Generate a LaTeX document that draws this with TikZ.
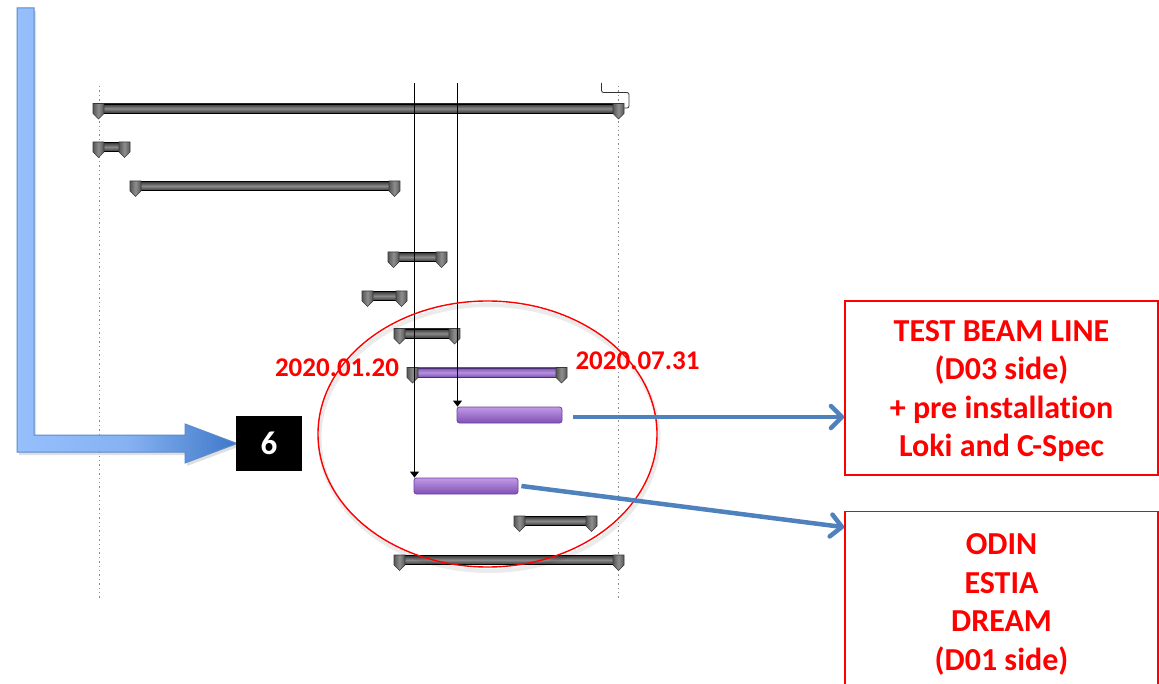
\documentclass[tikz,border=0pt]{standalone}
\usepackage{fontspec}
\setmainfont{Carlito}[Ligatures=NoCommon]
\usetikzlibrary{arrows.meta,shadows,calc}
\definecolor{lblue}{HTML}{96BFFC}
\definecolor{mblue}{HTML}{86B2F2}
\definecolor{dblue}{HTML}{3F78C8}
\definecolor{bblue}{HTML}{5A8AD0}
\definecolor{accblue}{HTML}{4F81BD}
\definecolor{barmid}{HTML}{8A8A8A}
\definecolor{bardark}{HTML}{383838}
\definecolor{capmid}{HTML}{8E8E8E}
\definecolor{capdark}{HTML}{575757}
\definecolor{purpmid}{HTML}{B592DE}
\definecolor{purpdark}{HTML}{7E57B0}
\definecolor{purpline}{HTML}{4B2D77}
\definecolor{tasktop}{HTML}{C09AE6}
\definecolor{taskbot}{HTML}{8050B4}
\definecolor{taskline}{HTML}{6E3FA0}
\definecolor{dotgray}{HTML}{8C8C8C}
\tikzset{
  sumbar/.style={top color=bardark, bottom color=bardark, middle color=barmid, draw=black, line width=0.8pt},
  purpbar/.style={top color=purpdark, bottom color=purpdark, middle color=purpmid, draw=purpline, line width=0.8pt},
  capshape/.style={left color=capdark, right color=capdark, middle color=capmid, draw=bardark, line width=0.6pt},
  taskbar/.style={rectangle, rounded corners=2.5pt, top color=tasktop, bottom color=taskbot, draw=taskline, line width=0.8pt, inner sep=0pt},
  depline/.style={draw=black, line width=0.9pt, -{Triangle[length=6pt,width=9pt]}},
  dotline/.style={draw=dotgray, line width=1pt, dash pattern=on 1.4pt off 3pt},
  bluearrow/.style={draw=accblue, line width=4.5pt, -{Straight Barb[length=11pt,width=22pt,line cap=round,line join=round]}},
  redbox/.style={rectangle, draw=red, line width=1.6pt, inner sep=0pt},
  boxtext/.style={text=red, font=\bfseries\fontsize{32}{38.5}\selectfont, align=center, inner sep=0pt},
  datelbl/.style={text=red, font=\bfseries\fontsize{27}{30}\selectfont, inner sep=0pt},
  numbox/.style={rectangle, fill=black, text=white, font=\bfseries\fontsize{33}{36}\selectfont, inner sep=0pt},
}
\newcommand\gcap[2]{%
  \path[capshape] ({#1-5.5},{#2-5}) -- ({#1+5.5},{#2-5}) -- ({#1+5.5},{#2+5}) -- ({#1},{#2+10.5}) -- ({#1-5.5},{#2+5}) -- cycle;}
\newcommand\gsum[4]{%
  \path[#4] ({#1+4},{#3-4.5}) rectangle ({#2-4},{#3+4.5});
  \gcap{#1+5.5}{#3}\gcap{#2-5.5}{#3}}
\begin{document}
\begin{tikzpicture}[x=1pt,y=-1pt]
\clip (0,0) rectangle (1159,684);
\fill[white] (0,0) rectangle (1159,684);

% dotted grid lines
\draw[dotline] (99,86) -- (99,600);
\draw[dotline] (618,86) -- (618,600);

% top-right link
\coordinate (lkA) at (601.5,83);
\coordinate (lkB) at (623,108);
\draw[draw=black!80, line width=0.8pt, rounded corners=2pt] (lkA) -- (601.5,92.5) -- (629,92.5) -- (629,108) -- (lkB);

% summary bars
\gsum{93}{624}{108.5}{sumbar}
\gsum{93}{130}{147}{sumbar}
\gsum{130}{400}{186}{sumbar}
\gsum{388}{447}{257}{sumbar}
\gsum{362}{407}{296}{sumbar}
\gsum{394}{460}{333.5}{sumbar}
\gsum{407}{567}{372.5}{purpbar}
\gsum{514}{597}{521}{sumbar}
\gsum{394}{624}{560}{sumbar}

% task bars
\node[taskbar, minimum width=105pt, minimum height=16pt] (t1) at (509.5,415) {};
\node[taskbar, minimum width=104pt, minimum height=16pt] (t2) at (466,486) {};

% dependency lines
\coordinate (v1) at (414.5,83);
\coordinate (v2) at (457.5,83);
\draw[depline] (v1) -- (v1 |- t2.north);
\draw[depline] (v2) -- (v2 |- t1.north);

% red ellipse with faint shadow
\draw[black, opacity=0.08, line width=4pt] (489,438) ellipse [x radius=169.5, y radius=133];
\draw[red, line width=1.4pt] (487.5,434) ellipse [x radius=169.5, y radius=133];

% date labels
\node[datelbl] (d1) at (337,367.5) {2020.01.20};
\node[datelbl] (d2) at (637.5,361) {2020.07.31};

% big blue L arrow
\path[left color=lblue, right color=dblue, middle color=mblue, draw=bblue, line width=1pt,
      drop shadow={shadow xshift=2pt, shadow yshift=-3pt, opacity=0.25}]
  (17,8) -- (34,8) -- (34,435) -- (185,435) -- (185,424) -- (237,443.5) -- (185,463) -- (185,452) -- (17,452) -- cycle;

% number box
\node[numbox, minimum width=66pt, minimum height=55pt] (n6) at (269,443.5) {6};

% red boxes
\node[redbox, minimum width=313pt, minimum height=174pt] (box1) at (1001.5,388) {};
\node[boxtext] (box1txt) at ([yshift=-3pt]box1.center)
  {TEST BEAM LINE\\(D03 side)\\+ pre installation\\Loki and C-Spec};
\node[redbox, minimum width=313pt, minimum height=180pt] (box2) at (1001.5,601.5) {};
\node[boxtext] (box2txt) at ([yshift=-3pt]box2.center)
  {ODIN\\ESTIA\\DREAM\\(D01 side)};

% blue arrows
\draw[bluearrow] ([xshift=11pt,yshift=-2pt]t1.east) -- ([yshift=-2pt]t1.east -| box1.west);
\draw[bluearrow] ([xshift=3pt]t2.east) -- ([yshift=-16.5pt]box2.north west);
\end{tikzpicture}
\end{document}
